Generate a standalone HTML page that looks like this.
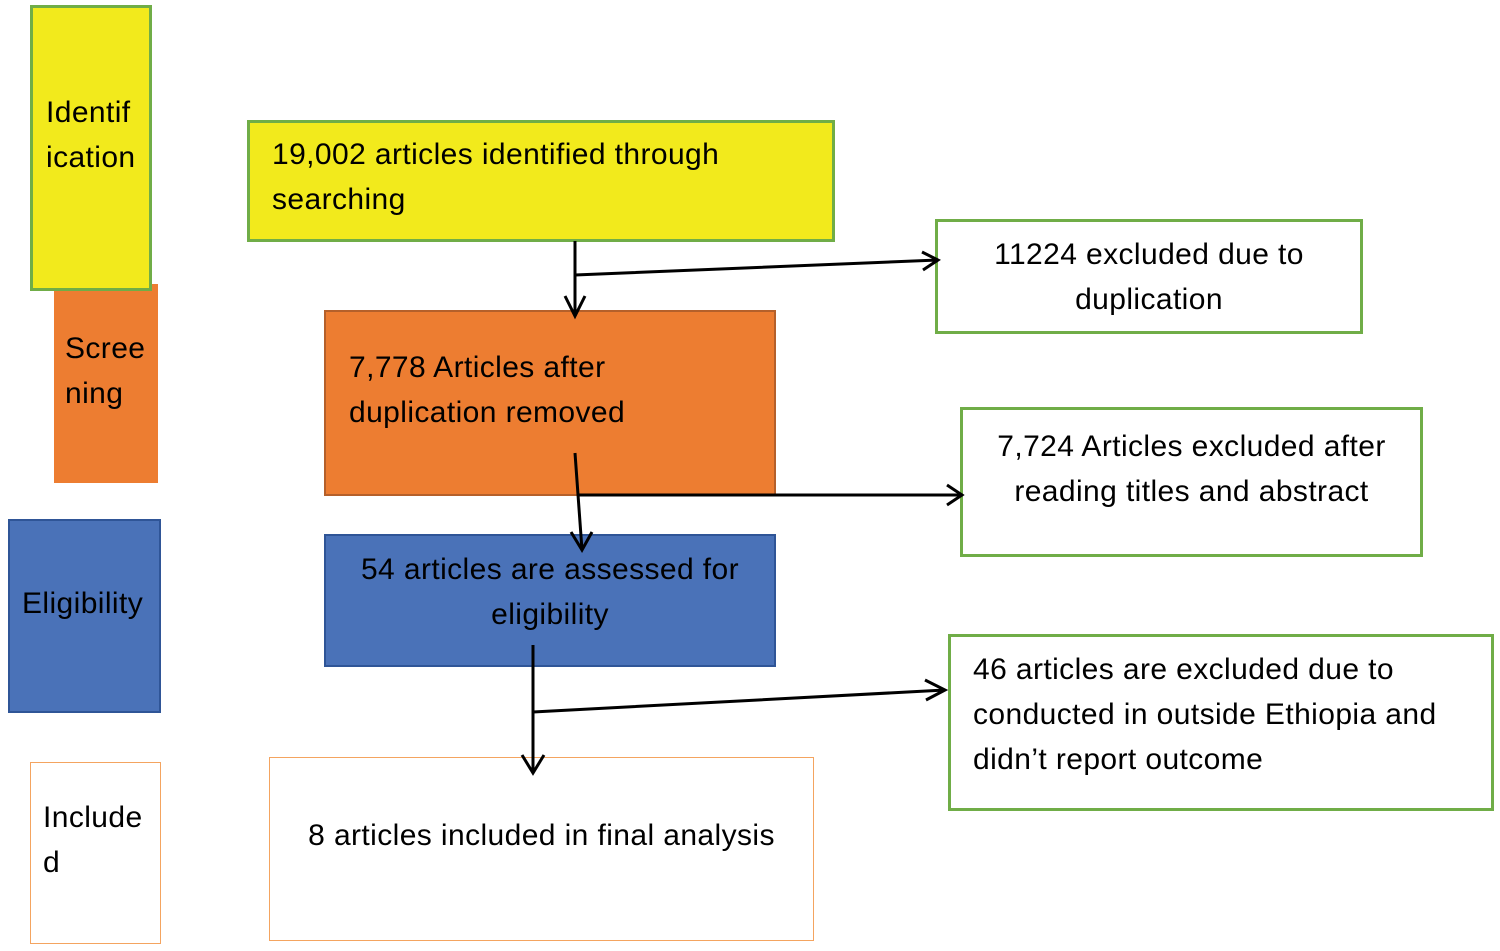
<!DOCTYPE html>
<html><head><meta charset="utf-8"><style>
body{margin:0;width:1500px;height:951px;background:#fff;position:relative;overflow:hidden;font-family:"Liberation Sans",sans-serif;}
.b{position:absolute;box-sizing:border-box;}
.t{position:absolute;font-size:30px;letter-spacing:0.4px;line-height:45px;color:#000;white-space:nowrap;}
</style></head><body>
<div class="b" style="left:54px;top:284px;width:104px;height:199px;background:#ed7d31;"></div>
<div class="b" style="left:30px;top:5px;width:122px;height:286px;background:#f2ea1c;border:3px solid #70ad47;"></div>
<div class="b" style="left:8px;top:519px;width:153px;height:194px;background:#4a72b8;border:2px solid #2f5597;"></div>
<div class="b" style="left:30px;top:762px;width:131px;height:182px;background:#fff;border:1.5px solid #f4a460;"></div>

<div class="b" style="left:247px;top:120px;width:588px;height:122px;background:#f2ea1c;border:3px solid #70ad47;"></div>
<div class="b" style="left:324px;top:310px;width:452px;height:186px;background:#ed7d31;border:2px solid #b5602a;"></div>
<div class="b" style="left:324px;top:534px;width:452px;height:133px;background:#4a72b8;border:2px solid #2f5597;"></div>
<div class="b" style="left:269px;top:757px;width:545px;height:184px;background:#fff;border:1.5px solid #f4a460;"></div>

<div class="b" style="left:935px;top:219px;width:428px;height:115px;border:3px solid #70ad47;"></div>
<div class="b" style="left:960px;top:407px;width:463px;height:150px;border:3px solid #70ad47;"></div>
<div class="b" style="left:948px;top:634px;width:546px;height:177px;border:3px solid #70ad47;"></div>

<div class="t" style="left:46px;top:90px;">Identif<br>ication</div>
<div class="t" style="left:65px;top:326px;">Scree<br>ning</div>
<div class="t" style="left:22px;top:581px;">Eligibility</div>
<div class="t" style="left:43px;top:795px;">Include<br>d</div>

<div class="t" style="left:272px;top:132px;">19,002 articles identified through<br>searching</div>
<div class="t" style="left:349px;top:345px;">7,778 Articles after<br>duplication removed</div>
<div class="t" style="left:325px;top:547px;width:450px;text-align:center;">54 articles are assessed for<br>eligibility</div>
<div class="t" style="left:270px;top:813px;width:543px;text-align:center;">8 articles included in final analysis</div>
<div class="t" style="left:935px;top:232px;width:428px;text-align:center;">11224 excluded due to<br>duplication</div>
<div class="t" style="left:960px;top:424px;width:463px;text-align:center;">7,724 Articles excluded after<br>reading titles and abstract</div>
<div class="t" style="left:973px;top:647px;">46 articles are excluded due to<br>conducted in outside Ethiopia and<br>didn’t report outcome</div>

<svg width="1500" height="951" style="position:absolute;left:0;top:0" fill="none" stroke="#000" stroke-width="3">
<path d="M575 241V316M565 296L575 316L585 296"/>
<path d="M575 275L938 260M922 252L938 260L923 270"/>
<path d="M575 453L582 550M571 532L582 550L592 532"/>
<path d="M578 495H962M947 485L962 495L947 505"/>
<path d="M533 645V773M522 755L533 773L544 755"/>
<path d="M533 712L945 690M925 680L945 690L926 700"/>
</svg>
</body></html>
